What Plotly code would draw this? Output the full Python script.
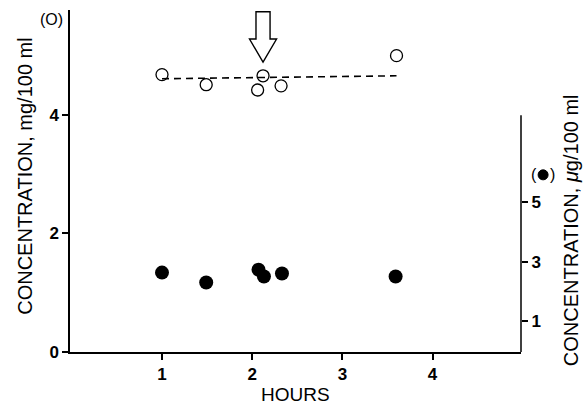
import plotly.graph_objects as go

# Plasma concentration (left axis, mg/100 ml) - open circles
hours_open = [1.0, 1.49, 2.12, 2.06, 2.32, 3.6]
conc_mg = [4.68, 4.51, 4.66, 4.42, 4.49, 5.0]

# Regression line through the open-circle series
fit_hours = [1.0, 3.6]
fit_mg = [4.61, 4.66]

# Concentration (right axis, ug/100 ml) - filled circles
hours_filled = [1.0, 1.49, 2.07, 2.13, 2.33, 3.59]
conc_ug = [2.63, 2.3, 2.73, 2.5, 2.6, 2.5]

x_ticks = [1, 2, 3, 4]
left_ticks = [0, 2, 4]
right_ticks = [1, 3, 5]

# Time of intervention (arrow)
arrow_hour = 2.12

FONT = "Liberation Sans, Arial, Helvetica, sans-serif"

fig = go.Figure()

fig.add_trace(go.Scatter(
    x=fit_hours, y=fit_mg, mode="lines",
    line=dict(color="black", width=1.6, dash="7px,5px"),
    showlegend=False, hoverinfo="skip"))

fig.add_trace(go.Scatter(
    x=hours_open, y=conc_mg, mode="markers",
    marker=dict(symbol="circle-open", size=12, color="black",
                line=dict(width=1.3, color="black")),
    showlegend=False))

fig.add_trace(go.Scatter(
    x=hours_filled, y=conc_ug, mode="markers", yaxis="y2",
    marker=dict(symbol="circle", size=14, color="black"),
    showlegend=False))

# Hollow downward arrow marking the intervention
sx, hx = 0.078, 0.15
y_top, y_neck, y_tip = 5.74, 5.28, 4.89
arrow_path = (
    f"M {arrow_hour - sx},{y_top} L {arrow_hour + sx},{y_top} "
    f"L {arrow_hour + sx},{y_neck} L {arrow_hour + hx},{y_neck} "
    f"L {arrow_hour},{y_tip} L {arrow_hour - hx},{y_neck} "
    f"L {arrow_hour - sx},{y_neck} Z"
)
fig.add_shape(type="path", path=arrow_path, xref="x", yref="y",
              line=dict(color="black", width=1.4), fillcolor="white")

# Right axis spine only spans the lower part of the plot
fig.add_shape(type="line", xref="paper", yref="y2",
              x0=1, x1=1, y0=-0.03, y1=7.9,
              line=dict(color="black", width=1.5))

# Filled-circle key symbol beside the right axis
key_x, key_y = 1.049, 0.518
fig.add_shape(type="circle", xref="paper", yref="paper",
              xsizemode="pixel", ysizemode="pixel",
              xanchor=key_x, yanchor=key_y,
              x0=-5, x1=5, y0=-5, y1=5,
              fillcolor="black", line=dict(color="black", width=1))

tick_font = dict(size=17, family=FONT, weight="bold")

fig.update_layout(
    width=584, height=406,
    margin=dict(l=70, r=63, t=10, b=54),
    paper_bgcolor="white", plot_bgcolor="white",
    font=dict(family=FONT, color="black"),
    xaxis=dict(range=[-0.02, 4.98], tickvals=x_ticks,
               showline=True, linecolor="black", linewidth=1.5,
               ticks="outside", ticklen=6, tickwidth=1.5, tickcolor="black",
               tickfont=tick_font,
               showgrid=False, zeroline=False),
    yaxis=dict(range=[0, 5.77], tickvals=left_ticks,
               showline=True, linecolor="black", linewidth=1.5,
               ticks="outside", ticklen=6, tickwidth=1.5, tickcolor="black",
               tickfont=tick_font,
               showgrid=False, zeroline=False),
    yaxis2=dict(range=[-0.03, 11.43], tickvals=right_ticks,
                overlaying="y", side="right", anchor="x",
                showline=False,
                ticks="outside", ticklen=6, tickwidth=1.5, tickcolor="black",
                tickfont=tick_font,
                showgrid=False, zeroline=False),
)

annotations = [
    dict(text="HOURS", x=0.5, y=-0.125, xref="paper", yref="paper",
         showarrow=False, font=dict(size=19), xanchor="center", yanchor="middle"),
    dict(text="CONCENTRATION, mg/100 ml", x=-0.1, y=0.515,
         xref="paper", yref="paper", textangle=-90, showarrow=False,
         font=dict(size=20), xanchor="center", yanchor="middle"),
    dict(text="CONCENTRATION, <i>μ</i>g/100 ml", x=1.11, y=0.355,
         xref="paper", yref="paper", textangle=-90, showarrow=False,
         font=dict(size=20), xanchor="center", yanchor="middle"),
    dict(text="(O)", x=-0.04, y=0.972, xref="paper", yref="paper",
         showarrow=False, font=dict(size=16), xanchor="center", yanchor="middle"),
    dict(text="(", x=key_x, y=key_y, xshift=-9, xref="paper", yref="paper",
         showarrow=False, font=dict(size=16), xanchor="center", yanchor="middle"),
    dict(text=")", x=key_x, y=key_y, xshift=9, xref="paper", yref="paper",
         showarrow=False, font=dict(size=16), xanchor="center", yanchor="middle"),
]
fig.update_layout(annotations=annotations)

fig.write_html("out.html")
